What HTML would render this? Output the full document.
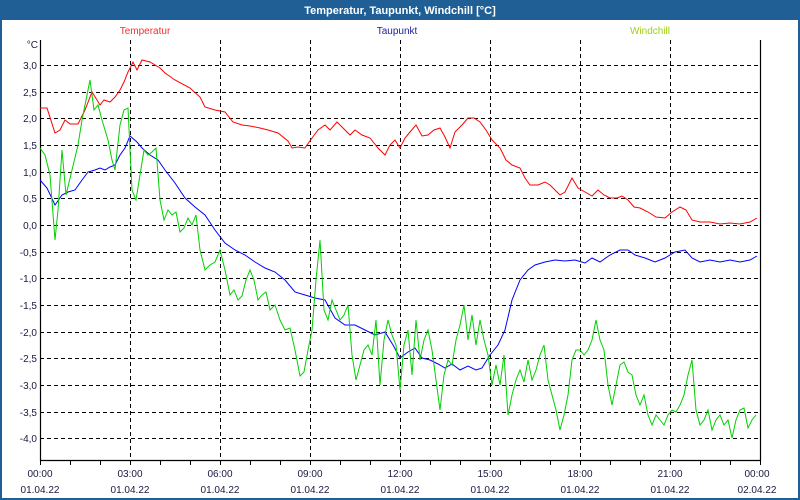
<!DOCTYPE html>
<html><head><meta charset="utf-8"><style>
body{margin:0;width:800px;height:500px;overflow:hidden;background:#fff}
svg{display:block;font-family:"Liberation Sans",sans-serif}
</style></head><body>
<svg width="800" height="500" xmlns="http://www.w3.org/2000/svg">
<rect x="0" y="0" width="800" height="500" fill="#fff"/>
<rect x="1" y="1" width="798" height="498" fill="none" stroke="#1f5f96" stroke-width="2"/>
<rect x="0" y="0" width="800" height="20" fill="#1f5f96"/>
<text x="400" y="14" text-anchor="middle" font-size="11" font-weight="bold" fill="#fff">Temperatur, Taupunkt, Windchill [°C]</text>
<text x="145" y="34" text-anchor="middle" font-size="10" fill="#f03030">Temperatur</text>
<text x="397" y="34" text-anchor="middle" font-size="10" fill="#2020a0">Taupunkt</text>
<text x="650" y="34" text-anchor="middle" font-size="10" fill="#a0d010">Windchill</text>
<g stroke="#000" stroke-width="1" stroke-dasharray="4,3" fill="none">
<path d="M40 65.5H760M40 92.5H760M40 118.5H760M40 145.5H760M40 172.5H760M40 198.5H760M40 225.5H760M40 252.5H760M40 278.5H760M40 305.5H760M40 332.5H760M40 358.5H760M40 385.5H760M40 412.5H760M40 438.5H760"/>
<path d="M130.5 40V460M220.5 40V460M310.5 40V460M400.5 40V460M490.5 40V460M580.5 40V460M670.5 40V460"/>
</g>
<path d="M40.5 40V460.5H760.5V40" stroke="#000" stroke-width="1.2" fill="none"/>
<g stroke="#000"><path d="M70.5 460v5M100.5 460v5M130.5 460v5M160.5 460v5M190.5 460v5M220.5 460v5M250.5 460v5M280.5 460v5M310.5 460v5M340.5 460v5M370.5 460v5M400.5 460v5M430.5 460v5M460.5 460v5M490.5 460v5M520.5 460v5M550.5 460v5M580.5 460v5M610.5 460v5M640.5 460v5M670.5 460v5M700.5 460v5M730.5 460v5M760.5 460v5M40.5 460v5"/></g>
<g font-size="10" fill="#1a1a40" text-anchor="end">
<text x="38" y="48">°C</text>
<text x="37" y="69">3,0</text><text x="37" y="96">2,5</text><text x="37" y="122">2,0</text><text x="37" y="149">1,5</text><text x="37" y="176">1,0</text><text x="37" y="202">0,5</text><text x="37" y="229">0,0</text><text x="37" y="256">-0,5</text><text x="37" y="282">-1,0</text><text x="37" y="309">-1,5</text><text x="37" y="336">-2,0</text><text x="37" y="362">-2,5</text><text x="37" y="389">-3,0</text><text x="37" y="416">-3,5</text><text x="37" y="442">-4,0</text>
</g>
<g font-size="10" fill="#1a1a40" text-anchor="middle">
<text x="40" y="477">00:00</text><text x="40" y="493">01.04.22</text>
<text x="130" y="477">03:00</text><text x="130" y="493">01.04.22</text>
<text x="220" y="477">06:00</text><text x="220" y="493">01.04.22</text>
<text x="310" y="477">09:00</text><text x="310" y="493">01.04.22</text>
<text x="400" y="477">12:00</text><text x="400" y="493">01.04.22</text>
<text x="490" y="477">15:00</text><text x="490" y="493">01.04.22</text>
<text x="580" y="477">18:00</text><text x="580" y="493">01.04.22</text>
<text x="670" y="477">21:00</text><text x="670" y="493">01.04.22</text>
<text x="757" y="477">00:00</text><text x="757" y="493">02.04.22</text>
</g>
<g fill="none" stroke-width="1">
<polyline stroke="#ff0000" points="40,108 47,108 55,133 60,130 65,120 70,124 78,124 85,110 92,92 97,100 100,105 104,100 110,102 115,97 120,90 124,82 128,72 133,62 137,70 142,60 150,62 160,68 165,73 175,80 190,88 200,97 205,107 215,110 225,112 233,122 242,125 250,126 260,128 268,130 278,133 288,141 292,148 298,147 305,148 312,138 318,130 325,125 330,130 337,122 343,128 350,135 355,130 362,135 370,138 378,148 385,155 390,145 395,140 400,148 405,138 410,132 416,125 422,136 428,135 434,130 440,128 445,137 450,148 455,132 462,125 468,118 474,118 480,122 486,130 492,140 500,148 506,160 512,165 520,168 525,178 530,185 538,185 545,182 550,185 555,190 560,195 565,192 572,178 578,188 585,192 592,196 598,190 604,195 610,198 617,198 622,196 628,200 634,207 640,208 648,212 656,217 665,218 672,212 680,207 686,210 692,220 700,222 710,222 720,224 730,223 740,224 750,222 757,218"/>
<polyline stroke="#0000ff" points="40,180 47,188 55,205 62,195 68,192 75,190 82,180 88,172 95,170 100,168 105,170 110,167 115,165 120,155 125,148 130,136 137,142 142,148 150,155 158,160 165,170 175,183 185,198 195,207 205,215 215,230 225,243 235,250 245,255 255,262 265,268 275,272 285,280 295,292 305,295 315,298 325,300 335,318 345,325 355,325 365,330 375,335 385,332 393,345 400,358 408,352 415,348 422,358 430,360 438,364 445,368 452,364 460,370 468,366 476,370 482,368 490,355 498,345 505,330 512,300 520,280 528,270 535,265 545,262 555,260 565,261 575,260 585,263 592,258 600,262 610,255 620,250 628,250 635,255 645,258 655,262 665,258 675,252 685,250 692,258 700,262 710,260 720,262 730,260 740,262 750,260 757,256"/>
<polyline stroke="#00d000" points="40,148 45,155 50,175 55,240 58,210 62,150 66,195 72,170 78,145 82,120 86,100 90,80 94,110 98,105 102,120 108,140 112,160 115,170 120,125 124,110 128,108 132,190 136,200 140,175 144,150 148,155 152,152 156,148 160,200 164,220 168,210 172,215 176,212 180,232 184,228 188,218 192,225 196,215 200,250 205,270 210,265 215,262 220,250 225,270 230,295 234,290 238,300 242,296 246,280 250,270 254,280 258,300 262,295 266,292 270,310 275,305 280,320 285,330 290,328 295,350 300,376 304,372 308,350 312,330 316,280 320,240 324,310 328,320 332,300 336,310 340,320 344,315 348,305 352,355 356,380 360,365 364,350 368,345 372,355 376,320 380,385 384,340 388,320 392,335 396,345 400,390 404,345 408,330 412,375 416,320 420,360 424,340 428,330 432,350 436,380 440,410 444,375 448,360 452,365 456,340 460,325 464,305 468,340 472,315 476,345 480,320 484,340 488,355 492,385 496,365 500,385 504,355 508,415 512,395 516,380 520,370 524,382 528,360 532,380 536,370 540,355 544,345 548,380 552,395 556,410 560,430 564,415 568,395 572,360 576,350 580,350 584,355 588,350 592,340 596,320 600,340 604,350 608,385 612,405 616,385 620,365 624,362 628,372 632,375 636,395 640,405 644,395 648,415 652,425 656,415 660,420 664,425 668,415 672,410 676,412 680,405 684,395 688,375 692,360 696,410 700,425 704,420 708,410 712,430 716,420 720,415 724,425 728,420 732,438 736,420 740,410 744,408 748,428 752,420 756,415"/>
</g>
</svg>
</body></html>
